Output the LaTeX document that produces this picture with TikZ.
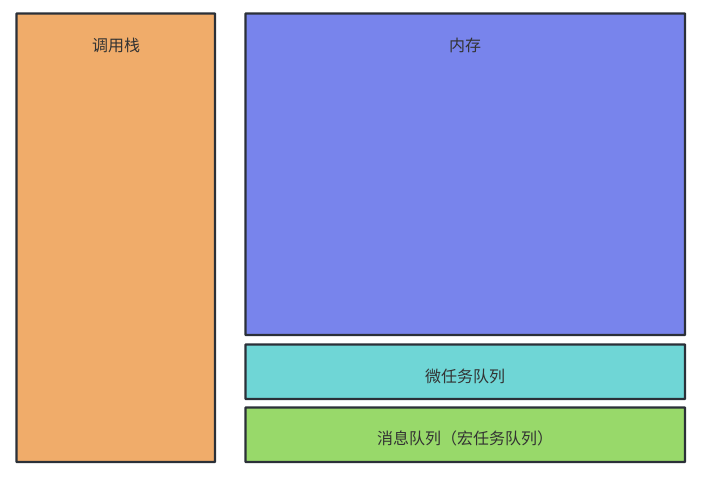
\documentclass[tikz,border=0pt]{standalone}
\usepackage{fontspec}
\setmainfont{Noto Sans CJK SC}
\definecolor{edge}{HTML}{2B3038}
\definecolor{txt}{HTML}{333333}
\definecolor{corange}{HTML}{F0AC6A}
\definecolor{cblue}{HTML}{7884EC}
\definecolor{ccyan}{HTML}{6FD6D6}
\definecolor{cgreen}{HTML}{98D96A}
\tikzset{
  panel/.style={draw=edge, line width=2.4pt, rounded corners=0.5pt},
  lbl/.style={text=txt, font=\fontsize{16pt}{19pt}\selectfont, inner sep=0pt, anchor=center}
}
\begin{document}
\begin{tikzpicture}[x=1pt,y=-1pt]
\useasboundingbox[fill=white] (0,0) rectangle (718,478);
\draw[panel, fill=corange] (16.5,13.5) rectangle (215,462);
\draw[panel, fill=cblue] (245.5,13.5) rectangle (685,335);
\draw[panel, fill=ccyan] (245.5,344.5) rectangle (685,399);
\draw[panel, fill=cgreen] (245.5,407.5) rectangle (685,462);
\node[lbl] (stack) at (116,45) {调用栈};
\node[lbl] (mem) at (465,45) {内存};
\node[lbl] (micro) at (465,376) {微任务队列};
\node[lbl] (macro) at (465,438) {消息队列（宏任务队列）};
\end{tikzpicture}
\end{document}
